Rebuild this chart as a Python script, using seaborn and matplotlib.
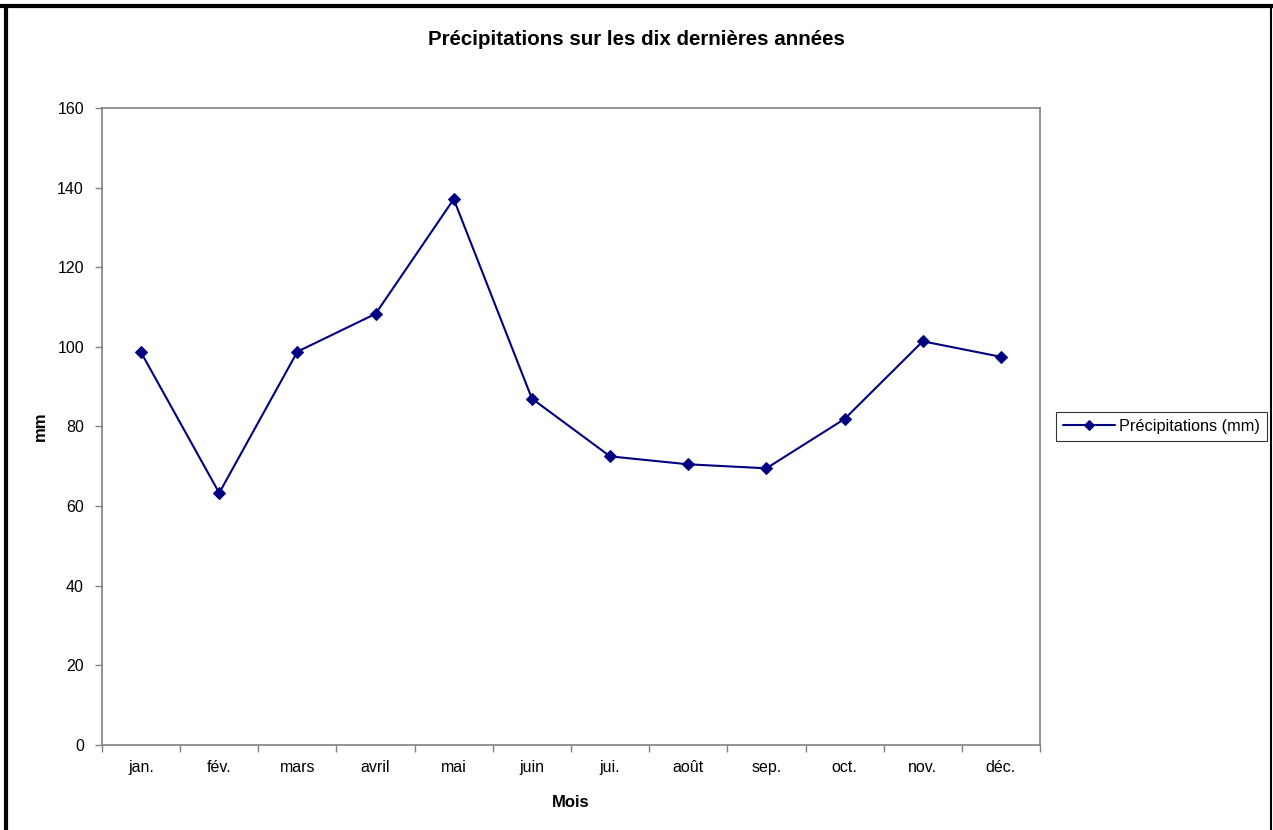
import matplotlib
matplotlib.use("Agg")
import matplotlib.pyplot as plt
import matplotlib.lines as mlines
import pandas as pd
import seaborn as sns

# --- data ---
mois = ["jan.", "fév.", "mars", "avril", "mai", "juin",
        "jui.", "août", "sep.", "oct.", "nov.", "déc."]
precipitations = [98.6, 63.3, 98.8, 108.3, 137.1, 87.0,
                  72.5, 70.5, 69.5, 81.9, 101.4, 97.5]
y_ticks = [0, 20, 40, 60, 80, 100, 120, 140, 160]

df = pd.DataFrame({"Mois": mois, "Précipitations (mm)": precipitations})
df["pos"] = range(len(df))

sns.set_style("white")
plt.rcParams["font.family"] = ["Liberation Sans", "DejaVu Sans"]
for key in ["text.color", "axes.labelcolor", "xtick.labelcolor", "ytick.labelcolor"]:
    plt.rcParams[key] = "black"

fig = plt.figure(figsize=(12.73, 8.30), dpi=100)
ax = fig.add_axes([0.0801, 0.1024, 0.7369, 0.7675])

sns.lineplot(data=df, x="pos", y="Précipitations (mm)", ax=ax, sort=False,
             color="#000080", linewidth=1.5, marker="D", markersize=6,
             markeredgecolor="#000080", label="Précipitations (mm)", legend=False)

# --- axes styling (Excel-like) ---
ax.set_xlim(-0.5, len(mois) - 0.5)
ax.set_ylim(0, 160)
ax.set_yticks(y_ticks)
ax.set_xticks([i - 0.5 for i in range(len(mois) + 1)])
ax.set_xticklabels([])
ax.set_xticks(list(range(len(mois))), minor=True)
ax.set_xticklabels(mois, minor=True)
ax.tick_params(axis="x", which="major", length=5, width=1, color="#808080", direction="out")
ax.tick_params(axis="x", which="minor", length=0, labelsize=11.5, pad=11)
ax.tick_params(axis="y", length=5, width=1, color="#808080", direction="out", labelsize=11.5, pad=8)
ax.yaxis.set_ticks_position("left")
ax.xaxis.set_ticks_position("bottom")
for side in ["left", "right", "top", "bottom"]:
    ax.spines[side].set_color("#808080")
    ax.spines[side].set_linewidth(1.2)

ax.set_xlabel("Mois", fontsize=12, fontweight="bold")
ax.xaxis.set_label_coords(0.5, -0.079)
ax.set_ylabel("mm", fontsize=12, fontweight="bold")
ax.yaxis.set_label_coords(-0.0575, 0.5)
fig.suptitle("Précipitations sur les dix dernières années",
             fontsize=14.8, fontweight="bold", y=0.964)

# --- legend on the right ---
handles, labels = ax.get_legend_handles_labels()
leg = fig.legend(handles, labels, loc="center left", bbox_to_anchor=(0.8295, 0.486),
                 fontsize=11.7, frameon=True, fancybox=False, handlelength=3.2,
                 handletextpad=0.2, borderpad=0.45, borderaxespad=0, markerscale=0.8)
leg.get_frame().set_edgecolor("black")
leg.get_frame().set_linewidth(0.8)

# --- outer chart border ---
fig.add_artist(mlines.Line2D([0.0, 1.0], [1 - 6 / 830, 1 - 6 / 830], color="black",
                             linewidth=3, transform=fig.transFigure))
fig.add_artist(mlines.Line2D([6 / 1273, 6 / 1273], [0.0, 1 - 6 / 830], color="black",
                             linewidth=3, transform=fig.transFigure))
fig.add_artist(mlines.Line2D([1 - 2 / 1273, 1 - 2 / 1273], [0.0, 1 - 6 / 830], color="black",
                             linewidth=1.5, transform=fig.transFigure))

fig.savefig("out.png", dpi=100)
plt.close(fig)
